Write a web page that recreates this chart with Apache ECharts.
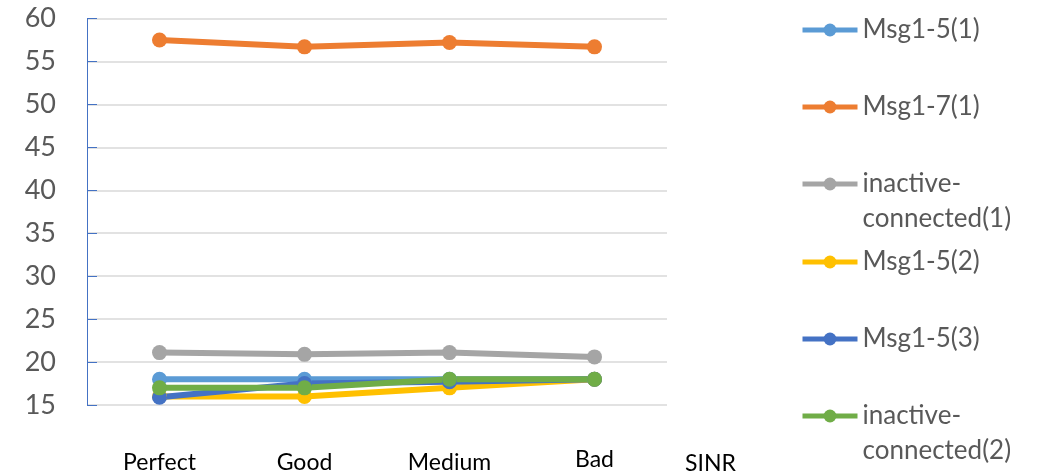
<!DOCTYPE html>
<html>
<head>
<meta charset="utf-8">
<script src="https://cdn.jsdelivr.net/npm/echarts@6/dist/echarts.min.js"></script>
<style>
  html, body { margin: 0; padding: 0; background: #fff; }
  #chart { width: 1041px; height: 473px; }
</style>
</head>
<body>
<div id="chart"></div>
<script>
// SINR conditions on the x axis
const categories = ['Perfect', 'Good', 'Medium', 'Bad'];

// Series values per SINR condition
const msg15_1 = [18, 18, 18, 18];
const msg17_1 = [57.5, 56.7, 57.2, 56.7];
const inactive_1 = [21.1, 20.9, 21.1, 20.6];
const msg15_2 = [16, 16, 17, 18];
const msg15_3 = [15.9, 17.5, 17.7, 18];
const inactive_2 = [17, 17, 18, 18];

const seriesNames = ['Msg1-5(1)', 'Msg1-7(1)', 'inactive-\nconnected(1)', 'Msg1-5(2)', 'Msg1-5(3)', 'inactive-\nconnected(2)'];
const seriesData = [msg15_1, msg17_1, inactive_1, msg15_2, msg15_3, inactive_2];
const colors = ['#5B9BD5', '#ED7D31', '#A5A5A5', '#FFC000', '#4472C4', '#70AD47'];

const yTicks = { min: 15, max: 60, interval: 5 };

const FONT = 'Lato';
const LEGEND_LH = 35;
const legendIconY = [30, 107, 184, 262, 339, 416];

const chart = echarts.init(document.getElementById('chart'), null, { renderer: 'canvas' });

const series = seriesNames.map((name, i) => ({
  name: name,
  type: 'line',
  data: seriesData[i],
  symbol: 'circle',
  symbolSize: 15,
  color: colors[i],
  lineStyle: { width: 6, color: colors[i] },
  itemStyle: { color: colors[i] },
  animation: false
}));

// One legend block per series; a leading blank line keeps the icon
// level with the first line of a two-line label
const legends = seriesNames.map((name, i) => {
  const multi = name.indexOf('\n') >= 0;
  return {
    data: [name],
    orient: 'vertical',
    left: 800,
    top: legendIconY[i] - (multi ? LEGEND_LH * 1.5 : LEGEND_LH / 2),
    padding: 0,
    itemWidth: 55,
    itemHeight: 16,
    itemGap: 0,
    selectedMode: false,
    lineStyle: { width: 5 },
    formatter: (n) => (n.indexOf('\n') >= 0 ? ' \n' + n : n),
    textStyle: {
      fontFamily: FONT,
      fontSize: 26,
      color: '#595959',
      lineHeight: LEGEND_LH
    }
  };
});

chart.setOption({
  backgroundColor: '#ffffff',
  animation: false,
  grid: {
    left: 87, right: 374, top: 18.5, bottom: 68,
    containLabel: false,
    outerBoundsMode: 'none'
  },
  legend: legends,
  xAxis: {
    type: 'category',
    data: categories,
    name: 'SINR',
    nameLocation: 'end',
    nameGap: 18,
    nameTextStyle: {
      fontFamily: FONT, fontSize: 23, color: '#000000',
      align: 'left', verticalAlign: 'top', lineHeight: 29,
      padding: [44, 0, 0, 0]
    },
    axisLine: { show: false },
    axisTick: { show: false },
    axisLabel: {
      margin: 40,
      formatter: (v) => (v === 'Bad' ? '{up|' + v + '}' : '{n|' + v + '}'),
      rich: {
        n: { fontFamily: FONT, fontSize: 23, color: '#000000', lineHeight: 29, padding: [6, 0, 0, 0] },
        up: { fontFamily: FONT, fontSize: 23, color: '#000000', lineHeight: 29 }
      }
    },
    splitLine: { show: false }
  },
  yAxis: {
    type: 'value',
    min: yTicks.min,
    max: yTicks.max,
    interval: yTicks.interval,
    axisLine: { show: true, lineStyle: { color: '#4472C4', width: 1 } },
    axisTick: { show: true, inside: true, length: 10, lineStyle: { color: '#4472C4', width: 1 } },
    axisLabel: { margin: 31, fontFamily: FONT, fontSize: 27, color: '#595959' },
    splitLine: { show: true, lineStyle: { color: '#D9D9D9', width: 1.5 } }
  },
  series: series
});
</script>
</body>
</html>
